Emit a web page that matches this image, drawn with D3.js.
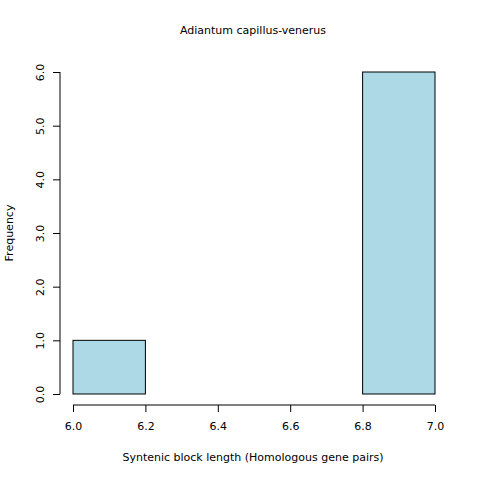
<!DOCTYPE html>
<html>
<head>
<meta charset="utf-8">
<script src="https://cdn.jsdelivr.net/npm/d3@7"></script>
<style>
  body { margin: 0; background: #fff; }
  text { font-family: "DejaVu Sans", sans-serif; font-size: 11px; fill: #000; }
</style>
</head>
<body>
<div id="chart"></div>
<script>
// Histogram bins and counts
var binStarts = [6.0, 6.2, 6.4, 6.6, 6.8];
var binWidth = 0.2;
var counts = [1, 0, 0, 0, 6];
var xTicks = [6.0, 6.2, 6.4, 6.6, 6.8, 7.0];
var yTicks = [0, 1, 2, 3, 4, 5, 6];

var svg = d3.select("#chart").append("svg")
    .attr("width", 480)
    .attr("height", 480);

var xScale = d3.scaleLinear().domain([6.0, 7.0]).range([73, 435]);
var yScale = d3.scaleLinear().domain([0, 6]).range([394, 72]);

// Bars
svg.selectAll("rect.bar")
    .data(binStarts)
    .enter()
    .append("rect")
    .attr("x", function(d) { return xScale(d); })
    .attr("y", function(d, i) { return yScale(counts[i]); })
    .attr("width", function(d) { return xScale(d + binWidth) - xScale(d); })
    .attr("height", function(d, i) { return yScale(0) - yScale(counts[i]); })
    .attr("fill", "#add8e6")
    .attr("stroke", "#000")
    .attr("stroke-width", 1);

// X axis
var xAxis = d3.axisBottom(xScale)
    .tickValues(xTicks)
    .tickFormat(d3.format(".1f"))
    .tickSize(7)
    .tickPadding(10);
svg.append("g")
    .attr("transform", "translate(0,405)")
    .call(xAxis)
    .call(function(g) { g.select(".domain").attr("d", "M73,0H435"); });

// Y axis
var yAxis = d3.axisLeft(yScale)
    .tickValues(yTicks)
    .tickSize(7)
    .tickPadding(0);
var yg = svg.append("g")
    .attr("transform", "translate(60,0)")
    .call(yAxis)
    .call(function(g) { g.select(".domain").attr("d", "M0,394V72"); });
yg.selectAll(".tick text")
    .attr("transform", "rotate(-90)")
    .attr("x", 0)
    .attr("y", -20)
    .attr("dy", "0.35em")
    .attr("text-anchor", "middle");

svg.selectAll(".tick text").style("font-family", "DejaVu Sans, sans-serif").style("font-size", "11px");

// Titles
svg.append("text")
    .attr("x", 253).attr("y", 34)
    .attr("text-anchor", "middle")
    .text("Adiantum capillus-venerus");

svg.append("text")
    .attr("x", 253).attr("y", 461)
    .attr("text-anchor", "middle")
    .text("Syntenic block length (Homologous gene pairs)");

svg.append("text")
    .attr("transform", "translate(13,233) rotate(-90)")
    .attr("text-anchor", "middle")
    .text("Frequency");
</script>
</body>
</html>
